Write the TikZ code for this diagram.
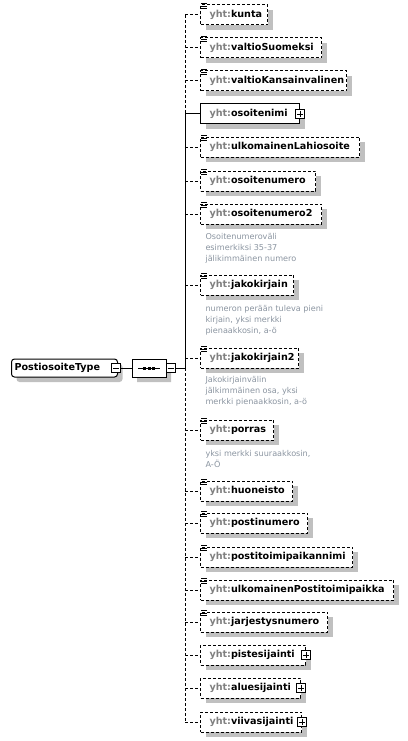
\documentclass[tikz,border=0pt]{standalone}
\usepackage{fontspec}
\setmainfont{DejaVu Sans}
\usetikzlibrary{shapes.misc,shadows,calc}
\definecolor{shgray}{HTML}{C0C0C0}
\definecolor{pfxgray}{HTML}{808080}
\definecolor{anngray}{HTML}{8A94A0}
\newcommand{\pfx}{\textcolor{pfxgray}{yht:}}
\newcommand{\el}[1]{\hspace*{9pt}\mbox{\pfx #1}}
\newcommand{\elemicon}[1]{\foreach \dd in {-1,1.5,4}{\draw[line width=0.8pt] ($(#1.north west)+(1,\dd)$) -- ++(6,0);}}
\begin{document}
\begin{tikzpicture}[x=1pt,y=-1pt,line width=1pt,
  every node/.style={font=\fontsize{9.6}{11}\selectfont\bfseries},
  shad/.style={drop shadow={shadow xshift=5pt,shadow yshift=-5pt,fill=shgray,opacity=1}},
  elem/.style={shape=rectangle,draw=black,fill=white,shad,minimum height=20pt,inner xsep=0pt,inner ysep=0pt,text width=#1,align=left,anchor=west},
  rootbox/.style={shape=rectangle,rounded corners=3pt,draw=black,fill=white,shad,minimum height=18pt,inner xsep=0pt,inner ysep=0pt,text width=106pt,align=left,anchor=west},
  seqbox/.style={chamfered rectangle,chamfered rectangle xsep=5pt,chamfered rectangle ysep=5pt,draw=black,fill=white,shad,minimum width=34pt,minimum height=18pt,inner sep=0pt},
  opt/.style={dash pattern=on 3pt off 2pt},
  pm/.style={shape=rectangle,draw=black,fill=white,line width=0.8pt,minimum size=9pt,inner sep=0pt},
  minus/.style={path picture={\draw[line width=0.8pt] ([xshift=1.5pt]path picture bounding box.west) -- ([xshift=-1.5pt]path picture bounding box.east);}},
  plus/.style={path picture={\draw[line width=0.8pt] ([xshift=1.5pt]path picture bounding box.west) -- ([xshift=-1.5pt]path picture bounding box.east);
     \draw[line width=0.8pt] ([yshift=-1.5pt]path picture bounding box.north) -- ([yshift=1.5pt]path picture bounding box.south);}},
  ann/.style={anchor=north west,inner sep=0pt,align=left,text=anngray,font=\fontsize{8.1}{11}\selectfont\mdseries}
]
\useasboundingbox (0,0) rectangle (407,741);
\coordinate (vline) at (185,0);

% root and compositor
\node[rootbox] (root) at (11,368) {\hspace*{3pt}PostiosoiteType};
\node[pm,minus] (rootpm) at (116,368) {};
\node[seqbox] (seq) at (149,368) {};
\node[pm,minus] (seqpm) at (170.5,368) {};
\draw ([xshift=-11pt]seq.center) -- ([xshift=11pt]seq.center);
\foreach \dx in {-4.5,0,4.5}{\fill ($(seq.center)+(\dx-1.5,-1.5)$) rectangle ++(3,3);}
\draw (rootpm.east) -- (seq.west);
\draw (seqpm.east) -- (seqpm.east -| vline);

% children
\node[elem=67pt,opt] (kunta) at (200,15) {\el{kunta}};
\node[elem=121pt,opt] (valtioSuomeksi) at (200,48) {\el{valtioSuomeksi}};
\node[elem=146pt,opt] (valtioKansainvalinen) at (200,81) {\el{valtioKansainvalinen}};
\node[elem=99pt] (osoitenimi) at (200,114) {\el{osoitenimi}};
\node[elem=159pt,opt] (ulkomainenLahiosoite) at (200,147) {\el{ulkomainenLahiosoite}};
\node[elem=115pt,opt] (osoitenumero) at (200,181) {\el{osoitenumero}};
\node[elem=121pt,opt] (osoitenumero2) at (200,214) {\el{osoitenumero2}};
\node[elem=93pt,opt] (jakokirjain) at (200,285) {\el{jakokirjain}};
\node[elem=98pt,opt] (jakokirjain2) at (200,358) {\el{jakokirjain2}};
\node[elem=73pt,opt] (porras) at (200,430) {\el{porras}};
\node[elem=92pt,opt] (huoneisto) at (200,491) {\el{huoneisto}};
\node[elem=107pt,opt] (postinumero) at (200,523) {\el{postinumero}};
\node[elem=152pt,opt] (postitoimipaikannimi) at (200,557) {\el{postitoimipaikannimi}};
\node[elem=193pt,opt] (ulkomainenPostitoimipaikka) at (200,590) {\el{ulkomainenPostitoimipaikka}};
\node[elem=127pt,opt] (jarjestysnumero) at (200,622) {\el{jarjestysnumero}};
\node[elem=105pt,opt] (pistesijainti) at (200,655) {\el{pistesijainti}};
\node[elem=100pt,opt] (aluesijainti) at (200,688) {\el{aluesijainti}};
\node[elem=101pt,opt] (viivasijainti) at (200,722) {\el{viivasijainti}};

\node[pm,plus] (osoitenimipm) at (osoitenimi.east) {};
\node[pm,plus] (pistesijaintipm) at (pistesijainti.east) {};
\node[pm,plus] (aluesijaintipm) at (aluesijainti.east) {};
\node[pm,plus] (viivasijaintipm) at (viivasijainti.east) {};

\foreach \n in {kunta,valtioSuomeksi,valtioKansainvalinen,ulkomainenLahiosoite,osoitenumero,osoitenumero2,jakokirjain,jakokirjain2,porras,huoneisto,postinumero,postitoimipaikannimi,ulkomainenPostitoimipaikka,jarjestysnumero}{\elemicon{\n}}

% connectors
\draw[opt] (kunta.west -| vline) -- (osoitenimi.west -| vline);
\draw (osoitenimi.west -| vline) -- (seqpm.east -| vline);
\draw[opt] (seqpm.east -| vline) -- (viivasijainti.west -| vline);
\foreach \n in {kunta,valtioSuomeksi,valtioKansainvalinen,ulkomainenLahiosoite,osoitenumero,osoitenumero2,jakokirjain,jakokirjain2,porras,huoneisto,postinumero,postitoimipaikannimi,ulkomainenPostitoimipaikka,jarjestysnumero,pistesijainti,aluesijainti,viivasijainti}{\draw[opt] (\n.west -| vline) -- (\n.west);}
\draw (osoitenimi.west -| vline) -- (osoitenimi.west);

% annotations
\node[ann] (annosoitenumero2) at (205,232.5) {Osoitenumeroväli\\esimerkiksi 35-37\\jälikimmäinen numero};
\node[ann] (annjakokirjain) at (205,304.8) {numeron perään tuleva pieni\\kirjain, yksi merkki\\pienaakkosin, a-ö};
\node[ann] (annjakokirjain2) at (205,375.8) {Jakokirjainvälin\\jälkimmäinen osa, yksi\\merkki pienaakkosin, a-ö};
\node[ann] (annporras) at (205,449.8) {yksi merkki suuraakkosin,\\A-Ö};
\end{tikzpicture}
\end{document}
